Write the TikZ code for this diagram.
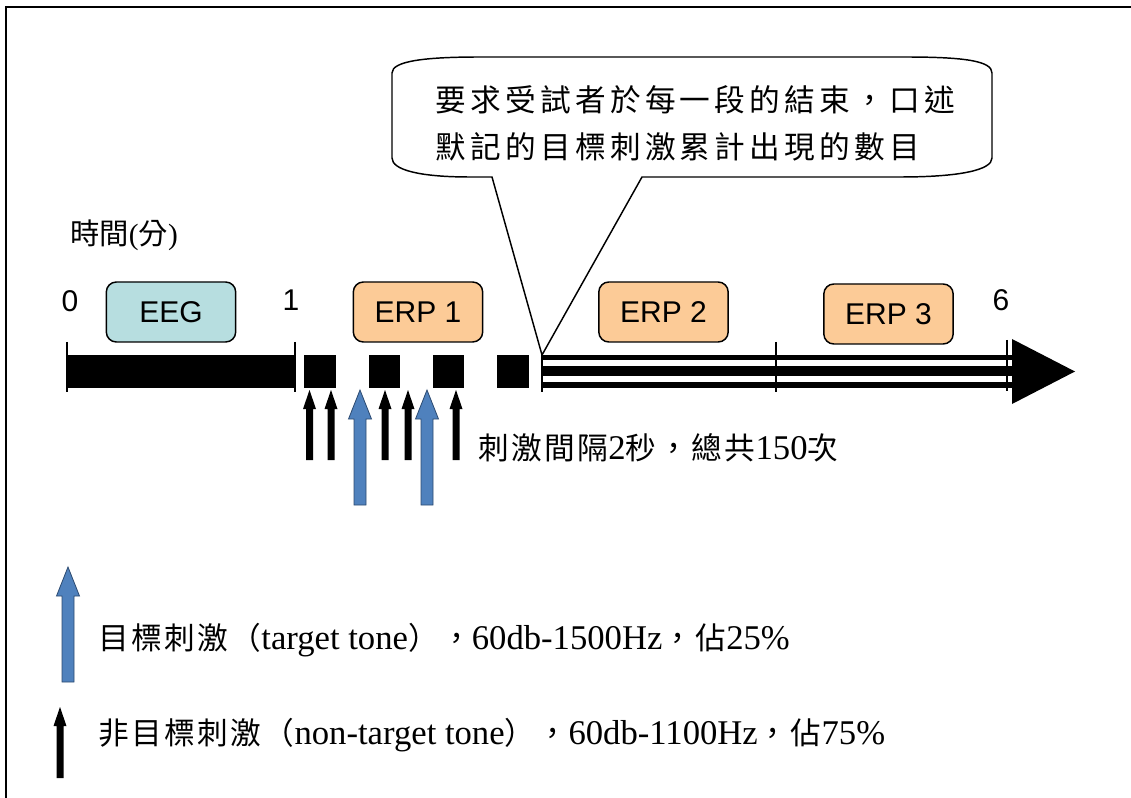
\documentclass[tikz,border=0pt]{standalone}
\usepackage{fontspec}
\setmainfont{Liberation Serif}
\newfontfamily\arialf{Liberation Sans}
\newfontfamily\cjk{Noto Sans CJK TC}
\newfontfamily\cjkwide[LetterSpace=14]{Noto Sans CJK TC}
\newfontfamily\cjkmid[LetterSpace=8]{Noto Sans CJK TC}
\newcommand\zh[1]{{\cjkmid\fontsize{23}{28}\selectfont #1}}

\definecolor{eegfill}{HTML}{B7DEE0}
\definecolor{erpfill}{HTML}{FCCB97}
\definecolor{tgtblue}{HTML}{4F81BD}
\definecolor{tgtedge}{HTML}{2C4A70}

% black (non-target) stimulus arrow: x, tip y, bottom y
\newcommand\ntarrow[3]{%
  \fill[black] ({#1-3.5},#3) -- ({#1-3.5},{#2+19}) -- ({#1-6.5},{#2+19}) -- (#1,#2)
    -- ({#1+6.5},{#2+19}) -- ({#1+3.5},{#2+19}) -- ({#1+3.5},#3) -- cycle;}
% blue (target) stimulus arrow: x, tip y, bottom y
\newcommand\tgarrow[3]{%
  \filldraw[fill=tgtblue, draw=tgtedge, line width=0.6pt] ({#1-6},#3) -- ({#1-6},{#2+29})
    -- ({#1-11.5},{#2+29}) -- (#1,#2) -- ({#1+11.5},{#2+29}) -- ({#1+6},{#2+29})
    -- ({#1+6},#3) -- cycle;}

\begin{document}
\begin{tikzpicture}[x=0.75pt,y=-0.75pt,
  phase/.style={draw=black, line width=1.1pt, rounded corners=7.5pt,
    minimum width=97pt, minimum height=45pt, inner sep=0pt,
    font=\arialf\fontsize{22.5}{26}\selectfont},
  tick/.style={line width=1.1pt},
  num/.style={font=\arialf\fontsize{22.5}{26}\selectfont, inner sep=0pt},
  zhtext/.style={anchor=west, inner sep=0pt, font=\fontsize{26}{30}\selectfont}]
\useasboundingbox (0,0) rectangle (1131,798);

% frame
\draw[line width=1.5pt] (6,798) -- (6,7) -- (1131,7);

% axis caption and minute marks
\node[anchor=west, inner sep=0pt, font=\fontsize{22}{26}\selectfont] (axis) at (70,235)
  {{\cjk 時間}({\cjk 分})};
\node[num] (m0) at (70,301) {0};
\node[num] (m1) at (291,300) {1};
\node[num] (m6) at (1001,300) {6};

% phase boxes
\node[phase, fill=eegfill] (eeg)  at (171,312)   {EEG};
\node[phase, fill=erpfill] (erp1) at (418,312)   {ERP 1};
\node[phase, fill=erpfill] (erp2) at (663.5,312) {ERP 2};
\node[phase, fill=erpfill] (erp3) at (888.5,314) {ERP 3};

% resting EEG segment
\fill (67,355) rectangle (294,388);
\draw[tick] (67,342) -- (67,392);
\draw[tick] (295,342) -- (295,392);

% stimulus blocks of ERP 1
\foreach \a/\b in {304/336, 369/400, 433/464, 497/529}
  \fill (\a,355) rectangle (\b,388);

% striped segment for ERP 2 and ERP 3
\fill (542,355) rectangle (1012,360.5);
\fill (542,366) rectangle (1012,376.5);
\fill (542,382) rectangle (1012,388);
\fill (1012,339) -- (1075,371.5) -- (1012,404) -- cycle;
\draw[tick] (542,355) -- (542,392);
\draw[tick] (776,342) -- (776,392);
\draw[tick] (1007,340) -- (1007,391);

% speech callout
\coordinate (tip) at (542,355);
\draw[line width=1.1pt, fill=white]
  (392,158) -- (392,73) .. controls (392,61) and (425,57) .. (480,57)
  -- (905,57) .. controls (965,57) and (992,61) .. (992,73)
  -- (992,158) .. controls (992,170) and (960,177) .. (900,177)
  -- (642,177) -- (tip) -- (492,177) -- (470,177)
  .. controls (420,177) and (392,170) .. (392,158) -- cycle;
\node[anchor=west, inner sep=0pt, font=\cjkwide\fontsize{23}{28}\selectfont] (note1)
  at (435,100) {要求受試者於每一段的結束，口述};
\node[anchor=west, inner sep=0pt, font=\cjkwide\fontsize{23}{28}\selectfont] (note2)
  at (435,147) {默記的目標刺激累計出現的數目};

% stimulus sequence
\ntarrow{309.5}{390}{460}
\ntarrow{331}{390}{460}
\tgarrow{360}{390}{505}
\ntarrow{385}{390}{460}
\ntarrow{408}{390}{460}
\tgarrow{427}{390}{505}
\ntarrow{456}{390}{460}
\node[zhtext] (isi) at (478,448) {\zh{刺激間隔}2\zh{秒，總共}150\zh{次}};

% legend
\tgarrow{68}{567}{682}
\node[zhtext] (leg1) at (98,640)
  {\zh{目標刺激（}target tone\zh{），}60db-1500Hz\zh{，佔}25\%};
\ntarrow{60}{707}{778}
\node[zhtext] (leg2) at (98,735)
  {\zh{非目標刺激（}non-target tone\zh{），}60db-1100Hz\zh{，佔}75\%};
\end{tikzpicture}
\end{document}
